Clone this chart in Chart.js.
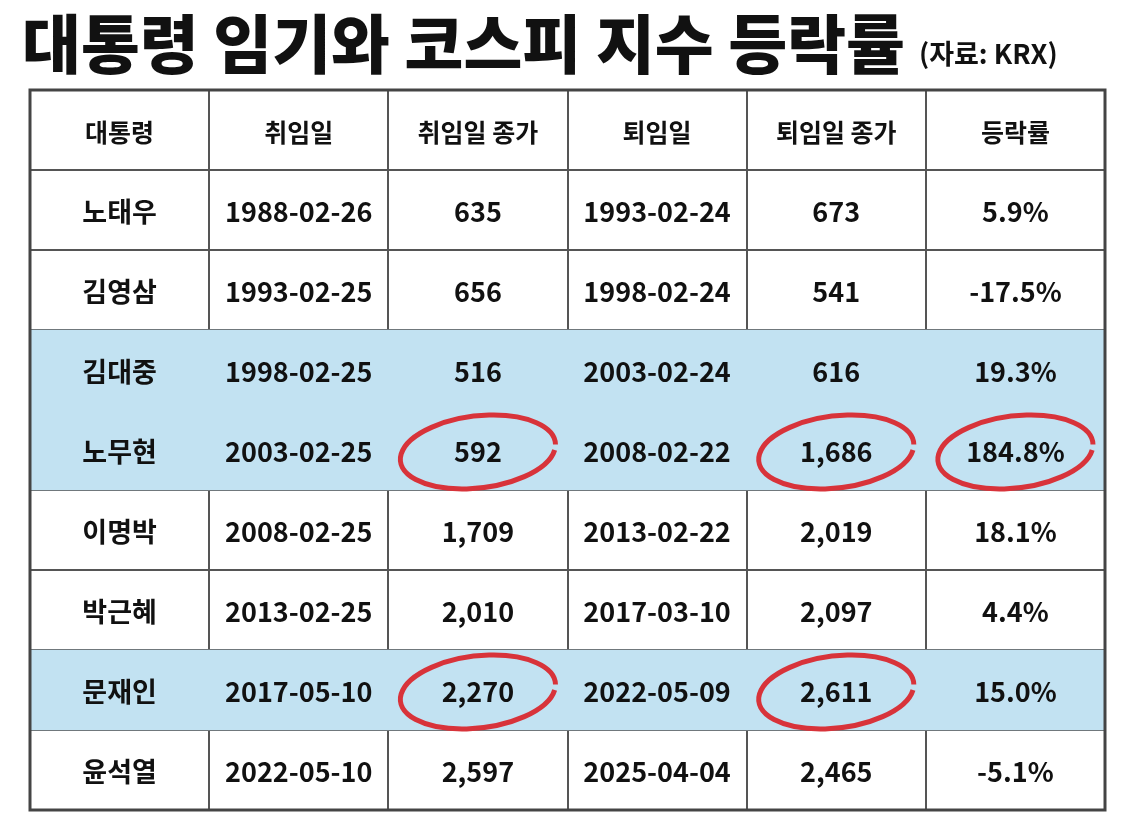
<!DOCTYPE html>
<html><head><meta charset="utf-8">
<script src="https://cdn.jsdelivr.net/npm/chart.js@4"></script>
<style>html,body{margin:0;background:#fff}#wrap{width:1137px;height:824px}</style>
</head><body><div id="wrap"><canvas id="c"></canvas></div>
<script>
const headers = ['대통령', '취임일', '취임일 종가', '퇴임일', '퇴임일 종가', '등락률'];
const presidents = ['노태우', '김영삼', '김대중', '노무현', '이명박', '박근혜', '문재인', '윤석열'];
const startDates = ['1988-02-26', '1993-02-25', '1998-02-25', '2003-02-25', '2008-02-25', '2013-02-25', '2017-05-10', '2022-05-10'];
const startClose = ['635', '656', '516', '592', '1,709', '2,010', '2,270', '2,597'];
const endDates = ['1993-02-24', '1998-02-24', '2003-02-24', '2008-02-22', '2013-02-22', '2017-03-10', '2022-05-09', '2025-04-04'];
const endClose = ['673', '541', '616', '1,686', '2,019', '2,097', '2,611', '2,465'];
const changes = ['5.9%', '-17.5%', '19.3%', '184.8%', '18.1%', '4.4%', '15.0%', '-5.1%'];
const highlighted = ['김대중', '노무현', '문재인'];
// circled cells: [president, column]
const circled = [['노무현', 2], ['노무현', 4], ['노무현', 5], ['문재인', 2], ['문재인', 4]];

const rowLabels = ['header'].concat(presidents);
const rows = [headers].concat(presidents.map((p, i) =>
  [p, startDates[i], startClose[i], endDates[i], endClose[i], changes[i]]));

const tablePlugin = {
  id: 'table',
  afterDraw(chart) {
    const ctx = chart.ctx, x = chart.scales.x, y = chart.scales.y;
    ctx.save();
    ctx.textAlign = 'center';
    ctx.textBaseline = 'middle';
    ctx.fillStyle = '#111';
    rows.forEach((r, ri) => {
      r.forEach((t, ci) => {
        ctx.font = (ri === 0 ? '700 25px' : '700 27px') + ' "Noto Sans CJK KR"';
        ctx.fillText(t, x.getPixelForValue(ci + 0.5), y.getPixelForValue(ri) + 2);
      });
    });
    ctx.strokeStyle = '#d8333a';
    ctx.lineWidth = 5;
    circled.forEach(([p, c]) => {
      const cx = x.getPixelForValue(c + 0.5), cy = y.getPixelForValue(presidents.indexOf(p) + 1);
      ctx.beginPath();
      ctx.ellipse(cx, cy + 2, 78, 36, -0.12, 0.2, Math.PI * 2 + 0.05);
      ctx.stroke();
    });
    // outer border
    const a = chart.chartArea;
    ctx.strokeStyle = '#444';
    ctx.lineWidth = 3;
    ctx.strokeRect(a.left, a.top, a.right - a.left, a.bottom - a.top);
    // title
    ctx.textAlign = 'left';
    ctx.textBaseline = 'alphabetic';
    ctx.fillStyle = '#111';
    ctx.font = '900 64px "Noto Sans CJK KR"';
    ctx.fillText('대통령 임기와 코스피 지수 등락률', 22, 68);
    const w = ctx.measureText('대통령 임기와 코스피 지수 등락률').width;
    ctx.font = '700 27px "Noto Sans CJK KR"';
    ctx.fillText('(자료: KRX)', 22 + w + 14, 64);
    ctx.restore();
  }
};

new Chart(document.getElementById('c'), {
  type: 'bar',
  data: {
    labels: rowLabels,
    datasets: [{
      data: rowLabels.map(() => [0, 6]),
      backgroundColor: rowLabels.map(l => highlighted.includes(l) ? '#c2e2f2' : 'rgba(0,0,0,0)'),
      borderWidth: 0,
      barPercentage: 1,
      categoryPercentage: 1
    }]
  },
  plugins: [tablePlugin],
  options: {
    indexAxis: 'y',
    responsive: true,
    maintainAspectRatio: false,
    animation: false,
    layout: { padding: { left: 30, right: 32, top: 90, bottom: 14 } },
    plugins: { legend: { display: false }, tooltip: { enabled: false } },
    scales: {
      x: {
        type: 'linear', min: 0, max: 6, z: 1,
        ticks: { display: false, stepSize: 1 },
        grid: { color: '#555', lineWidth: 2, drawTicks: false },
        border: { display: false }
      },
      y: {
        type: 'category', z: 1,
        ticks: { display: false },
        grid: { offset: true, color: '#555', lineWidth: 2, drawTicks: false },
        border: { display: false }
      }
    }
  }
});
</script></body></html>
